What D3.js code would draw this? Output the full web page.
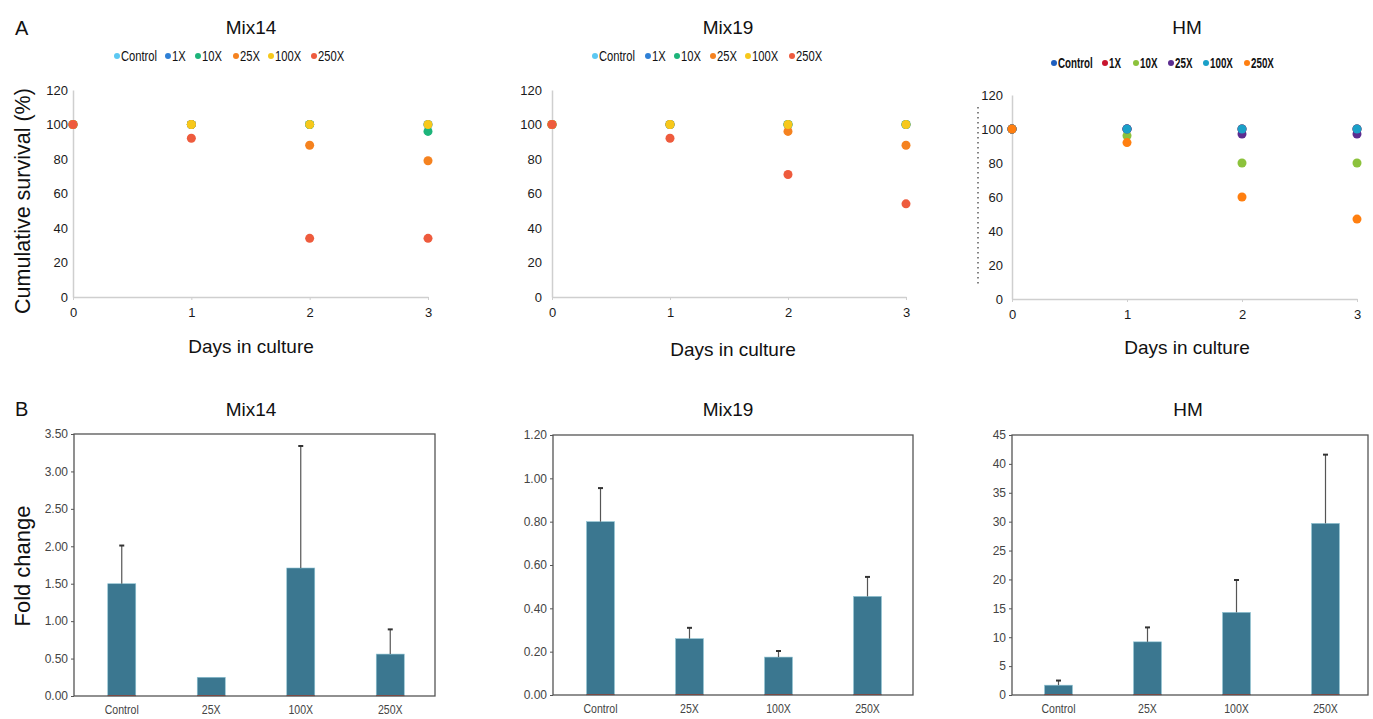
<!DOCTYPE html>
<html><head><meta charset="utf-8">
<script src="https://cdn.jsdelivr.net/npm/d3@7"></script>
<style>
body{margin:0;background:#fff;}
svg{display:block;}
text{font-family:"Liberation Sans",Arial,sans-serif;}
</style></head>
<body>
<svg id="chart" width="1373" height="719"></svg>
<script>
// ---------- data ----------
const days = [0, 1, 2, 3];
const doses = ["Control", "1X", "10X", "25X", "100X", "250X"];
const survivalTicks = [0, 20, 40, 60, 80, 100, 120];

// Mix14 cumulative survival (%) per dose, days 0..3
const mix14Control = [100, 100, 100, 100];
const mix14X1 = [100, 100, 100, 100];
const mix14X10 = [100, 100, 100, 96];
const mix14X25 = [100, 100, 88, 79];
const mix14X100 = [100, 100, 100, 100];
const mix14X250 = [100, 92, 34, 34];

// Mix19
const mix19Control = [100, 100, 100, 100];
const mix19X1 = [100, 100, 100, 100];
const mix19X10 = [100, 100, 100, 100];
const mix19X25 = [100, 100, 96, 88];
const mix19X100 = [100, 100, 100, 100];
const mix19X250 = [100, 92, 71, 54];

// HM
const hmControl = [100, 100, 100, 100];
const hmX1 = [100, 100, 100, 100];
const hmX10 = [100, 96, 80, 80];
const hmX25 = [100, 100, 97, 97];
const hmX100 = [100, 100, 100, 100];
const hmX250 = [100, 92, 60, 47];

// Fold change bars
const barCats = ["Control", "25X", "100X", "250X"];
const mix14Fold = [1.50, 0.25, 1.71, 0.56];
const mix14Err = [0.51, 0, 1.63, 0.33];
const mix19Fold = [0.80, 0.26, 0.175, 0.455];
const mix19Err = [0.155, 0.05, 0.028, 0.09];
const hmFold = [1.7, 9.2, 14.3, 29.7];
const hmErr = [0.8, 2.5, 5.6, 11.9];
const mix14FoldTicks = [0, 0.5, 1, 1.5, 2, 2.5, 3, 3.5];
const mix19FoldTicks = [0, 0.2, 0.4, 0.6, 0.8, 1.0, 1.2];
const hmFoldTicks = [0, 5, 10, 15, 20, 25, 30, 35, 40, 45];

// ---------- styles ----------
const mixColors = ["#5cc8f2", "#2f80d6", "#1db47a", "#f5821f", "#f7c81b", "#ee5b3d"];
const hmColors = ["#1f5fbf", "#c8142e", "#8cc23c", "#5c2d90", "#1aa0c8", "#ff7f10"];
const barColor = "#3b7790";

const svg = d3.select("#chart");

// ---------- top scatter panels ----------
const topPanels = [
  {title: "Mix14", series: [mix14Control, mix14X1, mix14X10, mix14X25, mix14X100, mix14X250],
   colors: mixColors, x: [73, 428], y: [297, 90], tickPad: 5, titleX: 251, xlabX: 251, xlabY: 353,
   legendDots: [117, 168, 198, 236, 271, 314], legendY: 56, bold: false},
  {title: "Mix19", series: [mix19Control, mix19X1, mix19X10, mix19X25, mix19X100, mix19X250],
   colors: mixColors, x: [552, 906], y: [297, 90], tickPad: 10, titleX: 728, xlabX: 733, xlabY: 356,
   legendDots: [595, 648, 677, 713, 748, 792], legendY: 56, bold: false},
  {title: "HM", series: [hmControl, hmX1, hmX10, hmX25, hmX100, hmX250],
   colors: hmColors, x: [1012, 1357], y: [299, 95], tickPad: 9, titleX: 1187, xlabX: 1187, xlabY: 354,
   legendDots: [1054, 1105, 1136, 1171, 1206, 1247], legendY: 63, bold: true}
];

topPanels.forEach(p => {
  const xs = d3.scaleLinear().domain([0, 3]).range(p.x);
  const ys = d3.scaleLinear().domain([0, 120]).range(p.y);
  const g = svg.append("g");

  g.append("text").attr("x", p.titleX).attr("y", 34)
    .attr("text-anchor", "middle").attr("font-size", 19).attr("fill", "#111").text(p.title);

  // legend
  doses.forEach((d, i) => {
    g.append("circle").attr("cx", p.legendDots[i]).attr("cy", p.legendY).attr("r", 3)
      .attr("fill", p.colors[i]);
    g.append("text")
      .attr("transform", `translate(${p.legendDots[i] + 4},${p.legendY + 5}) scale(${p.bold ? 0.7 : 0.8},1)`)
      .attr("font-size", 14).attr("font-weight", p.bold ? "bold" : "normal")
      .attr("fill", "#111").text(d);
  });

  // axes
  const yAxis = d3.axisLeft(ys).tickValues(survivalTicks).tickSize(0).tickPadding(p.tickPad);
  const ya = g.append("g").attr("transform", `translate(${p.x[0]},0)`).call(yAxis);
  ya.select(".domain").attr("stroke", "#cfcfcf").attr("stroke-width", 1.5);
  ya.selectAll("text").attr("font-size", 13).attr("fill", "#1a1a1a")
    .attr("font-family", "Liberation Sans, Arial, sans-serif");

  const xAxis = d3.axisBottom(xs).tickValues(days).tickFormat(d3.format("d"))
    .tickSize(3).tickPadding(8).tickSizeOuter(0);
  const xa = g.append("g").attr("transform", `translate(0,${p.y[0]})`).call(xAxis);
  xa.select(".domain").attr("stroke", "#cfcfcf").attr("stroke-width", 1.5);
  xa.selectAll("line").attr("stroke", "#cfcfcf");
  xa.selectAll("text").attr("font-size", 13).attr("fill", "#1a1a1a")
    .attr("font-family", "Liberation Sans, Arial, sans-serif");

  g.append("text").attr("x", p.xlabX).attr("y", p.xlabY)
    .attr("text-anchor", "middle").attr("font-size", 19).attr("fill", "#111").text("Days in culture");

  // points
  p.series.forEach((s, i) => {
    g.selectAll(null).data(s).enter().append("circle")
      .attr("cx", (v, j) => xs(days[j])).attr("cy", v => ys(v)).attr("r", 4.5)
      .attr("fill", p.colors[i]);
  });
});

// dotted artifact line left of HM panel
svg.append("line").attr("x1", 978).attr("x2", 978).attr("y1", 107).attr("y2", 284)
  .attr("stroke", "#333").attr("stroke-width", 1.2).attr("stroke-dasharray", "1.5,3.5");

// y title top
svg.append("text").attr("transform", "translate(30,201) rotate(-90)")
  .attr("text-anchor", "middle").attr("font-size", 21.5).attr("fill", "#111").text("Cumulative survival (%)");

svg.append("text").attr("x", 15).attr("y", 35).attr("font-size", 20).attr("fill", "#111").text("A");
svg.append("text").attr("x", 15).attr("y", 416).attr("font-size", 20).attr("fill", "#111").text("B");

// ---------- bottom bar panels ----------
const barPanels = [
  {title: "Mix14", vals: mix14Fold, errs: mix14Err, ticks: mix14FoldTicks, fmt: d3.format(".2f"),
   box: [74, 435], y: [696, 434], band: [77, 435], titleX: 251},
  {title: "Mix19", vals: mix19Fold, errs: mix19Err, ticks: mix19FoldTicks, fmt: d3.format(".2f"),
   box: [553, 913], y: [695, 435], band: [556, 912], titleX: 728},
  {title: "HM", vals: hmFold, errs: hmErr, ticks: hmFoldTicks, fmt: d3.format("d"),
   box: [1012, 1368], y: [695, 435], band: [1014, 1370], titleX: 1188}
];

barPanels.forEach(p => {
  const ys = d3.scaleLinear().domain([p.ticks[0], p.ticks[p.ticks.length - 1]]).range(p.y);
  const xs = d3.scaleBand().domain(barCats).range(p.band).paddingInner(0.687).paddingOuter(0.3435);
  const g = svg.append("g");

  g.append("text").attr("x", p.titleX).attr("y", 416)
    .attr("text-anchor", "middle").attr("font-size", 19).attr("fill", "#111").text(p.title);

  // bars
  g.selectAll(null).data(p.vals).enter().append("rect")
    .attr("x", (v, i) => xs(barCats[i])).attr("width", xs.bandwidth())
    .attr("y", v => ys(v)).attr("height", v => ys(0) - ys(v))
    .attr("fill", barColor).attr("stroke", "#8fc3d3").attr("stroke-width", 0.6);
  // red baseline under bars
  g.selectAll(null).data(p.vals).enter().append("line")
    .attr("x1", (v, i) => xs(barCats[i])).attr("x2", (v, i) => xs(barCats[i]) + xs.bandwidth())
    .attr("y1", ys(0) - 0.5).attr("y2", ys(0) - 0.5).attr("stroke", "#c0392b").attr("stroke-width", 1);

  // error bars
  p.vals.forEach((v, i) => {
    if (!p.errs[i]) return;
    const cx = xs(barCats[i]) + xs.bandwidth() / 2;
    g.append("line").attr("x1", cx).attr("x2", cx).attr("y1", ys(v)).attr("y2", ys(v + p.errs[i]))
      .attr("stroke", "#555").attr("stroke-width", 1.2);
    g.append("line").attr("x1", cx - 2.5).attr("x2", cx + 2.5).attr("y1", ys(v + p.errs[i])).attr("y2", ys(v + p.errs[i]))
      .attr("stroke", "#333").attr("stroke-width", 2);
  });

  // box
  g.append("rect").attr("x", p.box[0]).attr("y", p.y[1]).attr("width", p.box[1] - p.box[0])
    .attr("height", p.y[0] - p.y[1]).attr("fill", "none").attr("stroke", "#555").attr("stroke-width", 1.3);

  const yAxis = d3.axisLeft(ys).tickValues(p.ticks).tickFormat(p.fmt).tickSize(3).tickPadding(3).tickSizeOuter(0);
  const ya = g.append("g").attr("transform", `translate(${p.box[0]},0)`).call(yAxis);
  ya.select(".domain").remove();
  ya.selectAll("line").attr("stroke", "#555");
  ya.selectAll("text").attr("font-size", 12).attr("fill", "#444")
    .attr("font-family", "Liberation Sans, Arial, sans-serif");

  const xAxis = d3.axisBottom(xs).tickSize(0).tickPadding(9);
  const xa = g.append("g").attr("transform", `translate(0,${p.y[0]})`).call(xAxis);
  xa.select(".domain").remove();
  xa.selectAll("text").attr("font-size", 12).attr("fill", "#444").attr("transform", "scale(0.88,1)")
    .attr("font-family", "Liberation Sans, Arial, sans-serif");
});

svg.append("text").attr("transform", "translate(30,566) rotate(-90)")
  .attr("text-anchor", "middle").attr("font-size", 22).attr("fill", "#111").text("Fold change");
</script>
</body></html>
